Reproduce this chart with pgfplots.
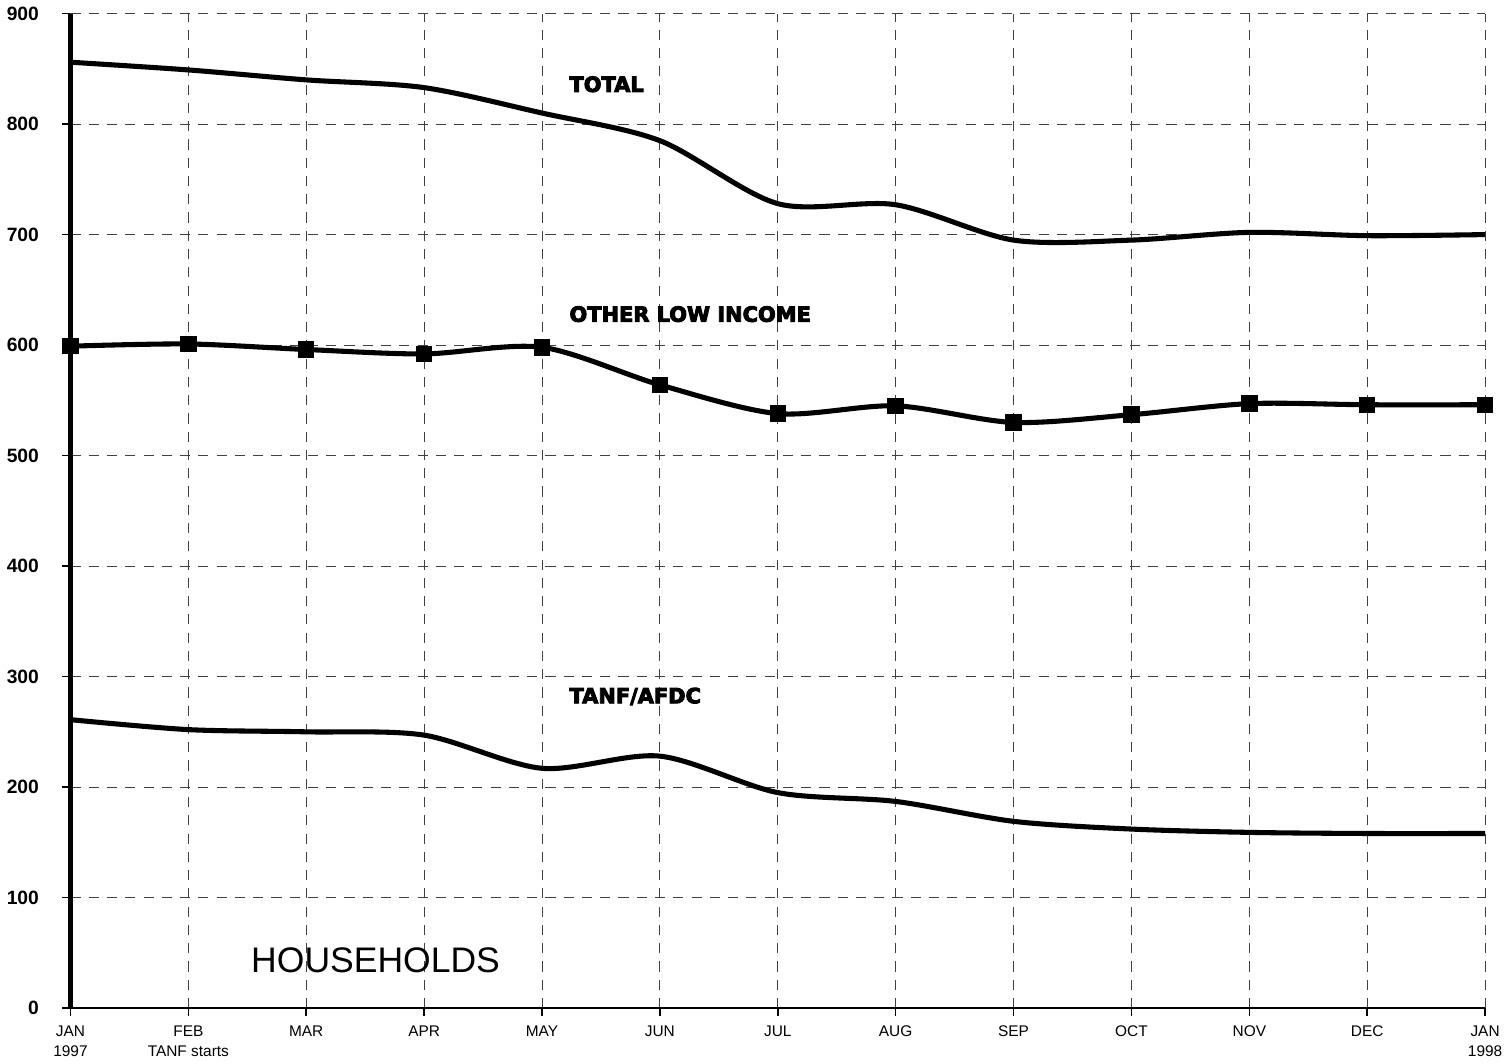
\documentclass[border=0pt]{standalone}
\usepackage{pgfplots}
\pgfplotsset{compat=1.18}
\usepackage{fontspec}
\setmainfont{Liberation Sans}
\newfontfamily\heavy{DejaVu Sans}
\newcommand{\fat}[1]{\special{pdf:code q 2 Tr 0.45 w}#1\special{pdf:code Q}}
\begin{document}
\begin{tikzpicture}
\begin{axis}[
  scale only axis,
  width=697pt, height=490pt,
  xmin=0, xmax=12, ymin=0, ymax=900,
  axis x line=bottom, axis y line=left,
  axis line style={-},
  y axis line style={line width=2.5pt},
  x axis line style={line width=0.6pt},
  xtick={0,...,12},
  xticklabels={{JAN\\1997},{FEB\\TANF starts},MAR,APR,MAY,JUN,JUL,AUG,SEP,OCT,NOV,DEC,{JAN\\1998}},
  xticklabel style={align=center, font=\fontsize{7.6}{10}\selectfont, anchor=north, yshift=-1pt},
  ytick={0,100,...,900},
  yticklabel style={font=\fontsize{9.5}{11}\selectfont\bfseries, xshift=-8pt},
  /pgf/number format/assume math mode=true,
  tick align=outside,
  major tick length=4pt,
  tick style={black, line width=0.8pt},
  grid=major,
  major grid style={dash pattern=on 5pt off 4pt, black!75, line width=0.4pt},
  clip=false,
]
\addplot[black, line width=2.5pt, smooth] coordinates {
(0,856) (1,849) (2,840) (3,833) (4,810) (5,785) (6,728) (7,727) (8,695) (9,695) (10,702) (11,699) (12,700)};
\addplot[black, line width=2.5pt, smooth, mark=square*, mark size=3.8pt, mark options={solid, line width=0.5pt}] coordinates {
(0,599) (1,601) (2,596) (3,592) (4,598) (5,564) (6,538) (7,545) (8,530) (9,537) (10,547) (11,546) (12,546)};
\addplot[black, line width=2.5pt, smooth] coordinates {
(0,261) (1,252) (2,250) (3,247) (4,217) (5,228) (6,195) (7,187) (8,169) (9,162) (10,159) (11,158) (12,158)};
\node[anchor=west, font=\heavy\fontsize{10.3}{11}\selectfont\bfseries, inner sep=0pt] at (axis cs:4.23,836) {\fat{TOTAL}};
\node[anchor=west, font=\heavy\fontsize{10.3}{11}\selectfont\bfseries, inner sep=0pt] at (axis cs:4.23,628) {\fat{OTHER LOW INCOME}};
\node[anchor=west, font=\heavy\fontsize{10.3}{11}\selectfont\bfseries, inner sep=0pt] at (axis cs:4.23,282) {\fat{TANF/AFDC}};
\node[anchor=west, font=\fontsize{17.5}{20}\selectfont, inner sep=0pt] at (axis cs:1.53,43) {HOUSEHOLDS};
\end{axis}
\end{tikzpicture}
\end{document}
